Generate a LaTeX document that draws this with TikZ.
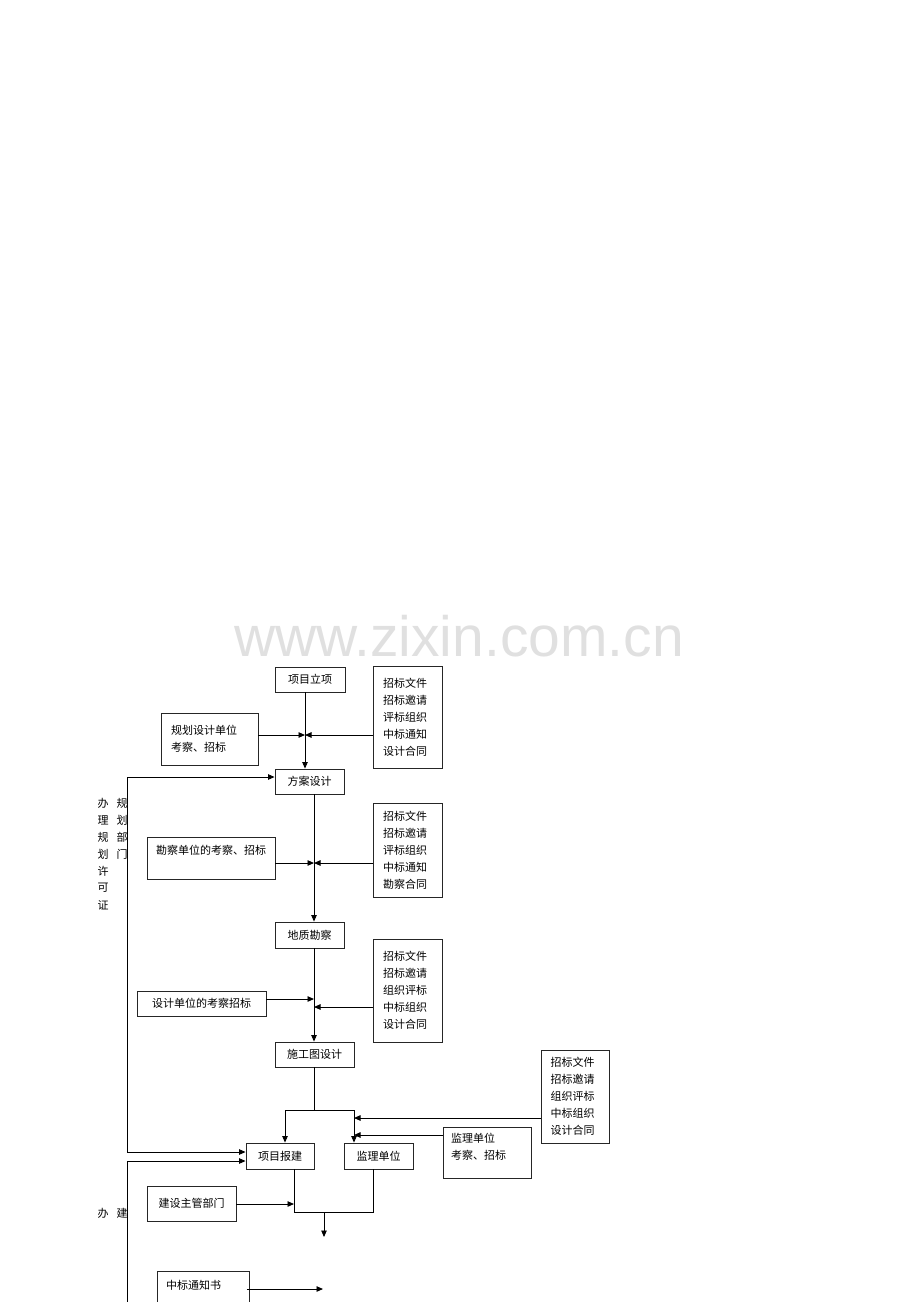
\documentclass[tikz,border=0pt]{standalone}
\usepackage{fontspec}
\setmainfont{Liberation Sans}
\newfontfamily\cjk{Noto Sans CJK SC}
\usetikzlibrary{arrows.meta,calc}
\begin{document}
\begin{tikzpicture}[x=1pt,y=-1pt,
  box/.style={draw=black!85,line width=0.9pt,inner sep=0pt,font=\cjk\fontsize{11}{17}\selectfont},
  rbox/.style={box,align=left,text width=49pt,minimum width=69pt},
  txt/.style={inner sep=0pt,font=\cjk\fontsize{11}{17}\selectfont},
  conn/.style={draw=black,line width=0.9pt},
  arr/.style={conn,-{Triangle[length=6.5pt,width=5.5pt]}},
  arrb/.style={conn,{Triangle[length=6.5pt,width=5.5pt]}-{Triangle[length=6.5pt,width=5.5pt]}}]
\useasboundingbox (0,0) rectangle (920,1302);
\clip (0,0) rectangle (920,1302);
% watermark
\node (wm) [inner sep=0pt,text=black!12,font=\fontsize{57}{60}\selectfont] at (459,636) {www.zixin.com.cn};
% boxes
\node (lx) [box,minimum width=70,minimum height=25] at (310,679.5) {项目立项};
\node (r1) [rbox,minimum height=102] at (407.5,717) {招标文件\\招标邀请\\评标组织\\中标通知\\设计合同};
\node (gh) [box,minimum width=97,minimum height=52,align=left] at (209.5,739) {规划设计单位\\考察、招标\phantom{单位}};
\node (fa) [box,minimum width=69,minimum height=25] at (309.5,781.5) {方案设计};
\node (r2) [rbox,minimum height=94] at (407.5,850) {招标文件\\招标邀请\\评标组织\\中标通知\\勘察合同};
\node (kc) [box,minimum width=128,minimum height=42] at (211,858) {};
\node (kct) [txt,anchor=west] at (156,850) {勘察单位的考察、招标};
\node (dz) [box,minimum width=69,minimum height=26] at (309.5,935) {地质勘察};
\node (r3) [rbox,minimum height=103] at (407.5,990.5) {招标文件\\招标邀请\\组织评标\\中标组织\\设计合同};
\node (sj) [box,minimum width=129,minimum height=25] at (201.5,1003.5) {设计单位的考察招标};
\node (sg) [box,minimum width=79,minimum height=25] at (314.5,1054.5) {施工图设计};
\node (xb) [box,minimum width=68,minimum height=26] at (280,1156) {项目报建};
\node (jl) [box,minimum width=69,minimum height=26] at (378.5,1156) {监理单位};
\node (r4) [rbox,minimum width=68pt,minimum height=93] at (575,1096.5) {招标文件\\招标邀请\\组织评标\\中标组织\\设计合同};
\node (jk) [box,minimum width=88,minimum height=51] at (487,1152.5) {};
\node (jkt) [txt,anchor=north west,align=left] at (451,1133) {监理单位\\考察、招标};
\node (zg) [box,minimum width=89,minimum height=35] at (191.5,1203.5) {建设主管部门};
\node (zb) [box,minimum width=92,minimum height=60,anchor=north west] at (157,1271) {};
\node (zbt) [txt,anchor=west] at (166,1285) {中标通知书};
% side texts
\foreach \c [count=\i from 0] in {办,理,规,划,许,可,证}
  \node [txt] at (103,803+17*\i) {\c};
\foreach \c [count=\i from 0] in {规,划,部,门}
  \node [txt] at (122,803+17*\i) {\c};
\node (ban) [txt] at (103,1213) {办};
\node (jian) [txt] at (122,1213) {建};
% junction coordinates
\coordinate (j1) at (305,735);
\coordinate (j2) at (314,863);
\coordinate (j3a) at (314,999);
\coordinate (j3b) at (314,1007);
\coordinate (sp) at (314,1110);
\coordinate (spl) at (285,1110);
\coordinate (spr) at (354,1110);
\coordinate (ia) at (354,1118);
\coordinate (ib) at (354,1135);
\coordinate (L1a) at (127,777);
\coordinate (L1b) at (127,1152);
\coordinate (L2) at (127,1161);
\coordinate (L2e) at (127,1310);
\coordinate (mL) at (294,1212);
\coordinate (mR) at (373,1212);
\coordinate (mC) at (324,1212);
\coordinate (mE) at (324,1237);
\coordinate (zE) at (323,1289);
% connectors
\draw[arr] (lx.south -| j1) -- (fa.north -| j1);
\draw[arr] (gh.east |- j1) -- (j1);
\draw[arr] (r1.west |- j1) -- (j1);
\draw[arr] (fa.south -| j2) -- (dz.north -| j2);
\draw[arr] (kc.east |- j2) -- (j2);
\draw[arr] (r2.west |- j2) -- (j2);
\draw[arr] (dz.south -| j3a) -- (sg.north -| j3a);
\draw[arr] (sj.east |- j3a) -- (j3a);
\draw[arr] (r3.west |- j3b) -- (j3b);
\draw[conn] (sg.south -| sp) -- (sp);
\draw[arr] (sp) -- (spl) -- (xb.north -| spl);
\draw[arr] (sp) -- (spr) -- (jl.north -| spr);
\draw[arr] (r4.west |- ia) -- (ia);
\draw[arr] (jk.west |- ib) -- (ib);
\draw[arrb] (fa.west |- L1a) -- (L1a) -- (L1b) -- (xb.west |- L1b);
\draw[arr] (L2e) -- (L2) -- (xb.west |- L2);
\draw[conn] (xb.south -| mL) -- (mL) -- (mR) -- (jl.south -| mR);
\draw[arr] (zg.east |- mL) ++(0,-8) -- (294,1204);
\draw[arr] (mC) -- (mE);
\draw[arr] ($(zb.east |- zE)+(-3,0)$) -- (zE);
\end{tikzpicture}
\end{document}
